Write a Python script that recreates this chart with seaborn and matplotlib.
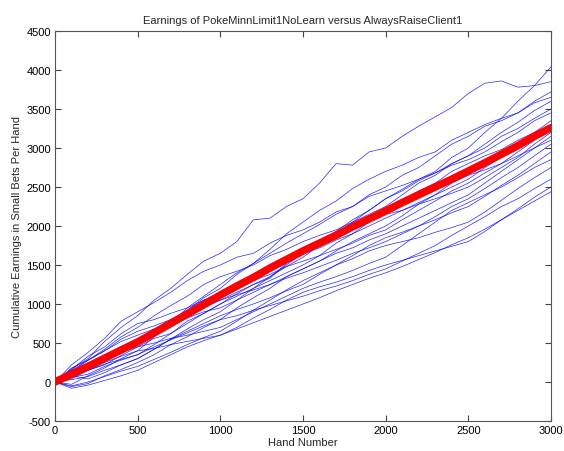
import numpy as np
import pandas as pd
import matplotlib
matplotlib.use("Agg")
import matplotlib.pyplot as plt
import seaborn as sns

hands = list(range(0, 3001, 100))

run_A = [0,60,150,220,340,450,560,620,780,880,1000,1130,1250,1330,1520,1700,1820,1930,2080,2200,2350,2470,2600,2700,2880,3000,3200,3380,3600,3800,4040]
run_B = [0,170,300,520,700,850,1050,1200,1380,1550,1650,1800,2080,2100,2250,2350,2550,2800,2780,2950,3000,3150,3280,3400,3520,3700,3830,3860,3780,3800,3850]
run_C = [0,220,380,560,780,900,1020,1150,1300,1420,1500,1600,1650,1780,1880,1950,2050,2180,2250,2400,2500,2650,2750,2900,3050,3150,3280,3350,3450,3600,3720]
run_D = [0,40,150,280,400,500,620,780,920,1080,1200,1380,1520,1700,1900,2050,2200,2320,2480,2600,2700,2780,2880,2950,3100,3200,3300,3380,3450,3580,3650]
run_E = [0,150,280,420,580,700,850,980,1100,1250,1350,1420,1500,1620,1700,1800,1880,1950,2050,2150,2250,2400,2550,2650,2800,2900,3050,3200,3330,3480,3600]
run_F = [0,-30,80,180,300,400,580,750,950,1100,1250,1400,1520,1650,1780,1900,2020,2150,2250,2380,2450,2520,2600,2680,2780,2850,2950,3080,3200,3350,3450]
run_G = [0,180,280,400,550,650,720,800,880,980,1050,1150,1250,1350,1480,1600,1750,1900,2050,2200,2350,2450,2580,2680,2800,2900,3000,3150,3250,3380,3500]
run_H = [0,160,330,450,620,750,800,880,950,1050,1100,1200,1330,1450,1560,1650,1720,1820,1900,2000,2100,2200,2300,2400,2500,2600,2750,2880,3050,3200,3350]
run_I = [0,30,70,150,220,300,420,550,680,800,900,1050,1200,1350,1500,1650,1750,1850,1980,2100,2200,2330,2450,2550,2700,2800,2900,2980,3100,3200,3300]
run_J = [0,120,200,330,450,550,680,800,920,1050,1150,1230,1300,1380,1480,1550,1620,1700,1780,1880,1950,2080,2200,2320,2450,2550,2680,2800,2950,3100,3250]
run_K = [0,60,100,200,280,350,480,620,750,880,1000,1100,1200,1300,1400,1500,1620,1780,1900,2050,2150,2200,2280,2350,2420,2500,2620,2750,2880,3050,3200]
run_L = [0,130,280,400,520,600,680,740,820,900,950,1050,1150,1250,1350,1450,1550,1680,1800,1900,2000,2130,2280,2400,2550,2650,2720,2800,2900,3000,3100]
run_M = [0,-60,-20,80,160,250,350,480,580,700,800,950,1080,1200,1350,1450,1550,1650,1720,1820,1900,2000,2100,2200,2300,2400,2550,2700,2850,3000,3150]
run_N = [0,100,200,300,420,500,620,730,850,950,1050,1120,1180,1250,1330,1400,1480,1560,1650,1720,1800,1900,2000,2120,2250,2350,2480,2620,2750,2900,3050]
run_O = [0,80,40,120,220,300,420,550,650,750,850,930,1000,1080,1170,1250,1380,1500,1620,1750,1850,1920,2000,2080,2170,2250,2380,2520,2650,2800,2950]
run_P = [0,110,230,300,380,450,500,560,600,650,700,800,900,1000,1100,1200,1280,1350,1430,1520,1600,1750,1900,2050,2200,2300,2400,2500,2620,2750,2850]
run_Q = [0,-50,0,70,140,200,290,380,480,570,650,780,920,1050,1180,1300,1400,1500,1580,1680,1750,1800,1850,1920,1980,2050,2180,2330,2480,2620,2750]
run_R = [0,90,150,230,290,350,450,540,630,720,800,850,920,980,1040,1100,1170,1230,1300,1380,1450,1550,1650,1750,1880,2000,2120,2250,2350,2480,2600]
run_S = [0,-80,-40,20,80,150,250,350,450,530,600,700,820,930,1050,1150,1220,1280,1350,1430,1500,1560,1620,1680,1740,1800,1930,2080,2220,2370,2500]
run_T = [0,70,150,250,330,400,430,480,520,560,600,680,760,840,920,1000,1080,1170,1250,1330,1400,1480,1570,1660,1760,1850,1960,2080,2200,2320,2440]

average_run = [0,100,200,305,410,513,630,750,870,990,1115,1230,1340,1460,1570,1680,1780,1880,1990,2090,2192,2300,2400,2500,2600,2705,2810,2920,3030,3150,3260]

x_ticks = [0, 500, 1000, 1500, 2000, 2500, 3000]
y_ticks = [-500, 0, 500, 1000, 1500, 2000, 2500, 3000, 3500, 4000, 4500]

runs = {"A": run_A, "B": run_B, "C": run_C, "D": run_D, "E": run_E, "F": run_F,
        "G": run_G, "H": run_H, "I": run_I, "J": run_J, "K": run_K, "L": run_L,
        "M": run_M, "N": run_N, "O": run_O, "P": run_P, "Q": run_Q, "R": run_R,
        "S": run_S, "T": run_T}

rows = []
for name, vals in runs.items():
    for h, v in zip(hands, vals):
        rows.append({"run": name, "hand": h, "earn": v})
df = pd.DataFrame(rows)
df_avg = pd.DataFrame({"hand": hands, "earn": average_run})

sns.set_style("white")
plt.rcParams["font.family"] = ["Liberation Sans", "DejaVu Sans"]

fig = plt.figure(figsize=(5.64, 4.52), dpi=100)
ax = fig.add_axes([55/564, 1 - 422/452, 496/564, 390/452])

sns.lineplot(data=df, x="hand", y="earn", units="run", estimator=None,
             color="#0000ff", linewidth=0.5, alpha=0.85, ax=ax, legend=False)
sns.lineplot(data=df_avg, x="hand", y="earn", color="#ff0000",
             linewidth=5.5, ax=ax, legend=False)

ax.set_xlim(0, 3000)
ax.set_ylim(-500, 4500)
ax.set_xticks(x_ticks)
ax.set_yticks(y_ticks)
ax.set_xticklabels([str(t) for t in x_ticks])
ax.set_yticklabels([str(t) for t in y_ticks])
ax.tick_params(direction="in", length=4, width=0.8, colors="#444444",
               labelcolor="black", labelsize=8, top=True, right=True,
               bottom=True, left=True, pad=3)
for s in ax.spines.values():
    s.set_color("#555555")
    s.set_linewidth(0.8)
    s.set_visible(True)

ax.set_title("Earnings of PokeMinnLimit1NoLearn versus AlwaysRaiseClient1",
             fontsize=8, pad=6)
ax.set_xlabel("Hand Number", fontsize=8, labelpad=1)
ax.set_ylabel("Cumulative Earnings in Small Bets Per Hand", fontsize=8, labelpad=3)

fig.savefig("out.png", dpi=100)
